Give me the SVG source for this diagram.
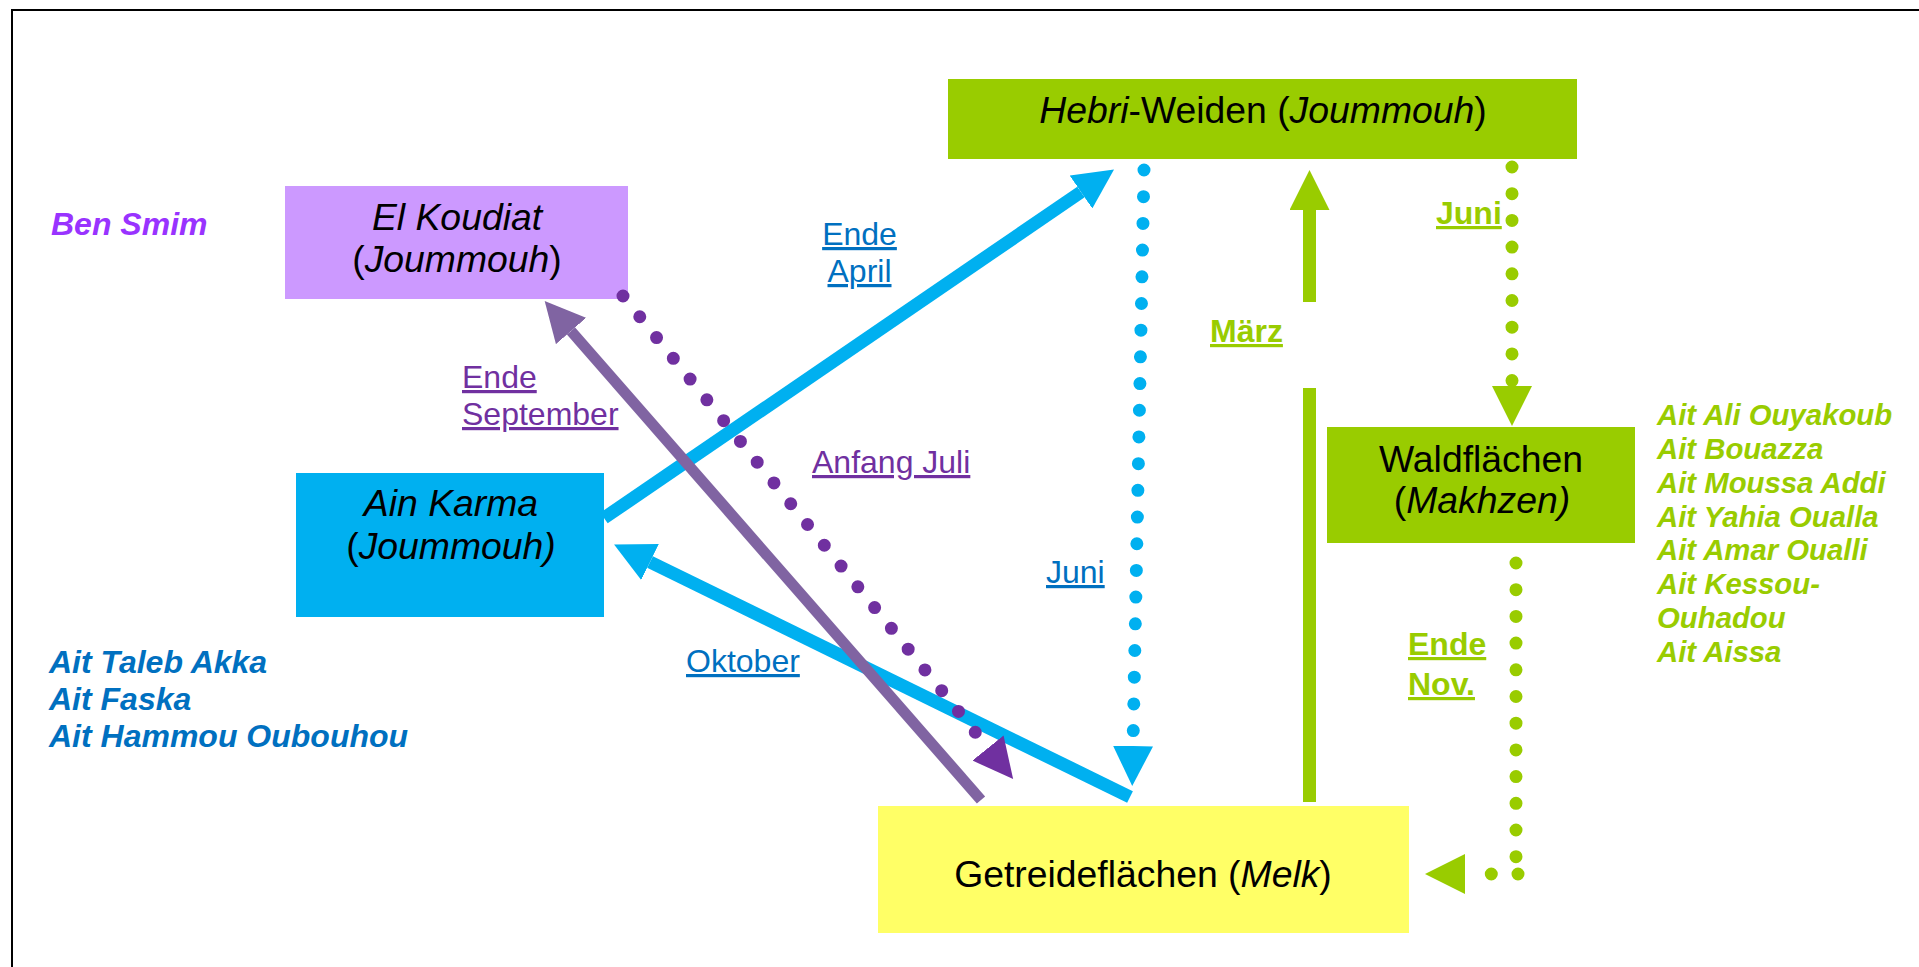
<svg xmlns="http://www.w3.org/2000/svg" width="1919" height="967" viewBox="0 0 1919 967">
  <style>
    text { font-family: "Liberation Sans", Arial, sans-serif; }
    .node text { font-size: 37.33px; fill: #000; text-anchor: middle; }
    .it { font-style: italic; }
    .lbl { font-size: 32px; text-decoration: underline; }
    .bold { font-weight: bold; }
    .list { font-size: 32px; font-weight: bold; font-style: italic; }
    .list.small { font-size: 29.33px; }
    .blue { fill: #0070C0; }
    .violet { fill: #7030A0; }
    .green { fill: #99CC00; }
    .solid { fill: none; stroke-linecap: butt; }
    .dots { fill: none; stroke-width: 13; stroke-linecap: round; stroke-dasharray: 0 26.7; }
  </style>
  <defs>
    <marker id="head-blue" viewBox="0 0 40 40" refX="0" refY="20" markerWidth="40" markerHeight="40" markerUnits="userSpaceOnUse" orient="auto">
      <path d="M0,0 L40,20 L0,40 z" fill="#00B0F0"/>
    </marker>
    <marker id="head-lilac" viewBox="0 0 40 40" refX="0" refY="20" markerWidth="40" markerHeight="40" markerUnits="userSpaceOnUse" orient="auto">
      <path d="M0,0 L40,20 L0,40 z" fill="#8064A2"/>
    </marker>
    <marker id="head-purple" viewBox="0 0 40 40" refX="0" refY="20" markerWidth="40" markerHeight="40" markerUnits="userSpaceOnUse" orient="auto">
      <path d="M0,0 L40,20 L0,40 z" fill="#7030A0"/>
    </marker>
    <marker id="head-green" viewBox="0 0 40 40" refX="0" refY="20" markerWidth="40" markerHeight="40" markerUnits="userSpaceOnUse" orient="auto">
      <path d="M0,0 L40,20 L0,40 z" fill="#99CC00"/>
    </marker>
  </defs>

  <rect width="1919" height="967" fill="#FFFFFF"/>
  <!-- frame -->
  <rect x="12" y="10" width="1920" height="970" fill="none" stroke="#000" stroke-width="2"/>

  <!-- nodes -->
  <g id="node-el-koudiat" class="node">
    <rect x="285" y="186" width="343" height="113" fill="#CC99FF"/>
    <text x="457" y="230" class="it">El Koudiat</text>
    <text x="457" y="272">(<tspan class="it">Joummouh</tspan>)</text>
  </g>
  <g id="node-hebri" class="node">
    <rect x="948" y="79" width="629" height="80" fill="#99CC00"/>
    <text x="1263" y="123"><tspan class="it">Hebri</tspan>-Weiden (<tspan class="it">Joummouh</tspan>)</text>
  </g>
  <g id="node-ain-karma" class="node">
    <rect x="296" y="473" width="308" height="144" fill="#00B0F0"/>
    <text x="451" y="516" class="it">Ain Karma</text>
    <text x="451" y="559">(<tspan class="it">Joummouh)</tspan></text>
  </g>
  <g id="node-wald" class="node">
    <rect x="1327" y="427" width="308" height="116" fill="#99CC00"/>
    <text x="1481" y="472">Waldflächen</text>
    <text x="1482" y="513">(<tspan class="it">Makhzen)</tspan></text>
  </g>
  <g id="node-getreide" class="node">
    <rect x="878" y="806" width="531" height="127" fill="#FFFF66"/>
    <text x="1143" y="887">Getreideflächen (<tspan class="it">Melk</tspan>)</text>
  </g>

  <!-- connectors -->
  <g id="connectors">
    <path class="solid" d="M604,518 L1081,192" stroke="#00B0F0" stroke-width="13" marker-end="url(#head-blue)"/>
    <path class="solid" d="M1130,797 L650,562" stroke="#00B0F0" stroke-width="13" marker-end="url(#head-blue)"/>
    <path class="solid" d="M981,800 L571,331" stroke="#8064A2" stroke-width="11" marker-end="url(#head-lilac)"/>
    <path class="dots" d="M623,296 L988,748" stroke="#7030A0" marker-end="url(#head-purple)"/>
    <path class="dots" d="M1144,170 L1133,746" stroke="#00B0F0" marker-end="url(#head-blue)"/>
    <path class="solid" d="M1309.5,802 V388 M1309.5,302 V210" stroke="#99CC00" stroke-width="13" marker-end="url(#head-green)"/>
    <path class="dots" d="M1512,167 V386" stroke="#99CC00" marker-end="url(#head-green)"/>
    <path class="dots" d="M1516,563 V860" stroke="#99CC00"/>
    <path class="dots" d="M1518,874 H1465" stroke="#99CC00" marker-end="url(#head-green)"/>
  </g>

  <!-- connector labels -->
  <g id="labels">
    <text class="lbl blue" x="859.5" y="245" text-anchor="middle">Ende</text>
    <text class="lbl blue" x="859.5" y="282" text-anchor="middle">April</text>
    <text class="lbl violet" x="462" y="388">Ende</text>
    <text class="lbl violet" x="462" y="425">September</text>
    <text class="lbl violet" x="812" y="473">Anfang Juli</text>
    <text class="lbl blue" x="1046" y="583">Juni</text>
    <text class="lbl blue" x="686" y="672">Oktober</text>
    <text class="lbl bold green" x="1210" y="342">März</text>
    <text class="lbl bold green" x="1436" y="224">Juni</text>
    <text class="lbl bold green" x="1408" y="655">Ende</text>
    <text class="lbl bold green" x="1408" y="695">Nov.</text>
  </g>

  <!-- tribe lists -->
  <g id="list-ben-smim">
    <text class="list" x="51" y="235" fill="#9933FF">Ben Smim</text>
  </g>
  <g id="list-ain-karma">
    <text class="list blue" x="49" y="673">Ait Taleb Akka</text>
    <text class="list blue" x="49" y="710">Ait Faska</text>
    <text class="list blue" x="49" y="747">Ait Hammou Oubouhou</text>
  </g>
  <g id="list-wald">
    <text class="list small green" x="1657" y="425">Ait Ali Ouyakoub</text>
    <text class="list small green" x="1657" y="459">Ait Bouazza</text>
    <text class="list small green" x="1657" y="492.5">Ait Moussa Addi</text>
    <text class="list small green" x="1657" y="526.5">Ait Yahia Oualla</text>
    <text class="list small green" x="1657" y="560">Ait Amar Oualli</text>
    <text class="list small green" x="1657" y="594">Ait Kessou-</text>
    <text class="list small green" x="1657" y="628">Ouhadou</text>
    <text class="list small green" x="1657" y="662">Ait Aissa</text>
  </g>
</svg>
